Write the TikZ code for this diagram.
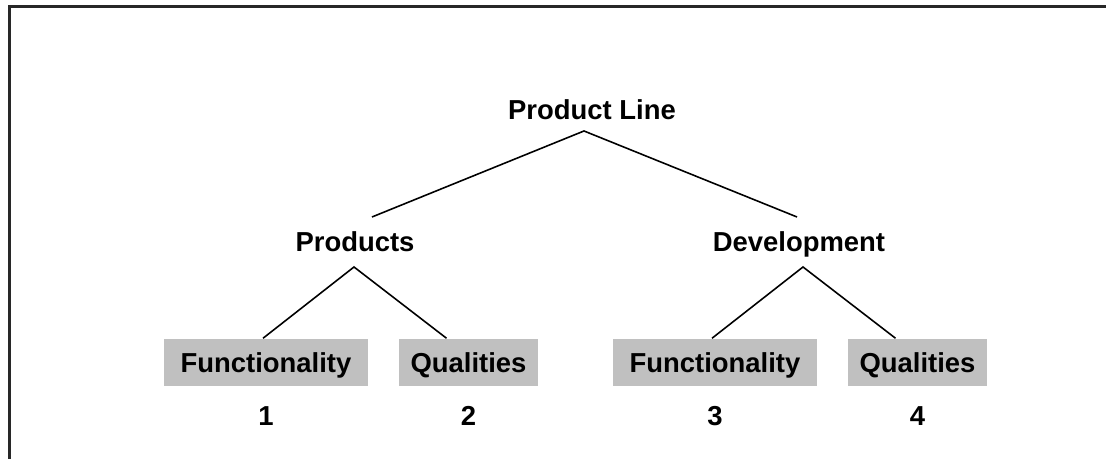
\documentclass[tikz,border=0pt]{standalone}
\usepackage{fontspec}
\setmainfont{Liberation Sans}
\usetikzlibrary{positioning, calc}
\definecolor{boxgray}{RGB}{192,192,192}
\definecolor{framegray}{RGB}{40,40,40}

\begin{document}
\begin{tikzpicture}[x=0.01cm, y=-0.01cm,
    lbl/.style={inner sep=0pt, font=\fontsize{7.8}{9}\selectfont\bfseries},
    area/.style={lbl, fill=boxgray, minimum height=0.47cm, text height=0.2cm, text depth=0cm},
    edge/.style={line width=0.45pt}]
        \useasboundingbox (0,0) rectangle (1106,459);
        \draw[framegray, line width=0.6pt] (1106,6.5) -- (9.5,6.5) -- (9.5,459);

        \node[lbl, anchor=base] (productline) at (592,120) {Product Line};
        \node[lbl, anchor=base] (products) at (355,252) {Products};
        \node[lbl, anchor=base] (development) at (799,252) {Development};

        \node[area, minimum width=2.04cm] (prodfunc) at (266,362.5) {Functionality};
        \node[area, minimum width=1.39cm] (prodqual) at (468.5,362.5) {Qualities};
        \node[area, minimum width=2.04cm] (devfunc) at (715,362.5) {Functionality};
        \node[area, minimum width=1.39cm] (devqual) at (917.5,362.5) {Qualities};

        \node[lbl, below=0.19cm of prodfunc] (one) {1};
        \node[lbl, below=0.19cm of prodqual] (two) {2};
        \node[lbl, below=0.19cm of devfunc] (three) {3};
        \node[lbl, below=0.19cm of devqual] (four) {4};

        \draw[edge] ($(products.base)+(17,-35)$) -- ($(productline.base)+(-8,11)$) -- ($(development.base)+(-2,-35)$);
        \draw[edge] ($(prodfunc.north)+(-3,0)$) -- ($(products.base)+(-1,15)$) -- ($(prodqual.north)+(-22,0)$);
        \draw[edge] ($(devfunc.north)+(-3,0)$) -- ($(development.base)+(4,15)$) -- ($(devqual.north)+(-22,0)$);
    \end{tikzpicture}
\end{document}
